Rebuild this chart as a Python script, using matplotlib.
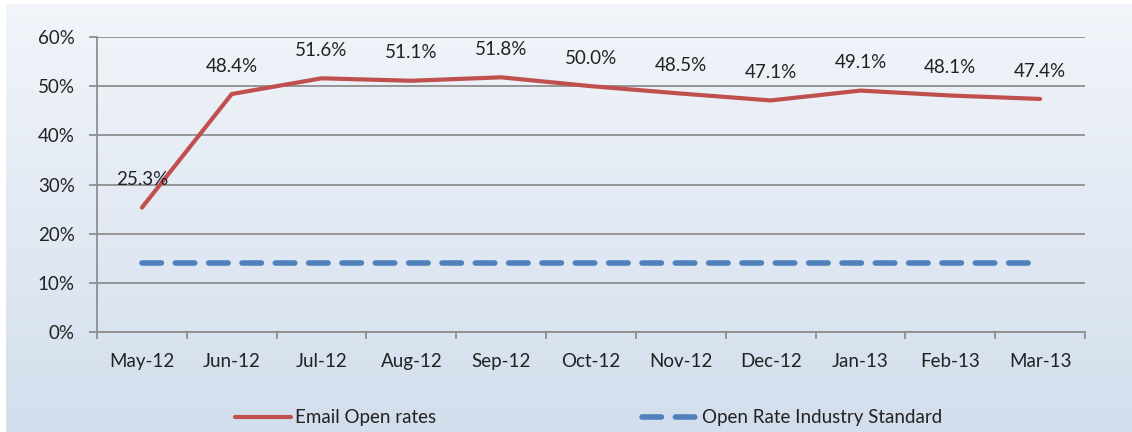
import matplotlib.pyplot as plt
import numpy as np

plt.rcParams['font.family'] = ['Lato', 'DejaVu Sans']

# data
months = ["May-12", "Jun-12", "Jul-12", "Aug-12", "Sep-12", "Oct-12",
          "Nov-12", "Dec-12", "Jan-13", "Feb-13", "Mar-13"]
open_rates = [25.3, 48.4, 51.6, 51.1, 51.8, 50.0, 48.5, 47.1, 49.1, 48.1, 47.4]
industry_std = [14.0] * len(months)

text_col = '#222222'
grid_col = '#8e8e8e'
fs = 13.5

fig = plt.figure(figsize=(11.32, 4.32), dpi=100)

# gradient background
bg = fig.add_axes([6 / 1132, 0, 1 - 6 / 1132, 1 - 4 / 432], zorder=-1)
top = np.array([0.949, 0.961, 0.980])
bot = np.array([0.827, 0.871, 0.929])
t = np.linspace(0, 1, 256)[:, None]
grad = top[None, :] * (1 - t) + bot[None, :] * t
bg.imshow(grad[:, None, :], aspect='auto', extent=[0, 1, 0, 1])
bg.axis('off')

ax = fig.add_axes([97 / 1132, 1 - 332 / 432, (1085 - 97) / 1132, (332 - 37) / 432])
ax.patch.set_alpha(0)

x = np.arange(len(months))
ax.plot(x, open_rates, color='#c0504d', lw=3, solid_capstyle='round',
        label='Email Open rates', zorder=3)
ax.plot(x, industry_std, color='#4f81bd', lw=4, dashes=(3.5, 2.5),
        dash_capstyle='round', label='Open Rate Industry Standard', zorder=3)

for xi, v in zip(x, open_rates):
    ax.annotate(f"{v:.1f}%", (xi, v), xytext=(0, 20), textcoords='offset points',
                ha='center', va='center', fontsize=fs, color=text_col)

ax.set_xlim(-0.5, len(months) - 0.5)
ax.set_ylim(0, 60)
ax.set_yticks(range(0, 61, 10))
ax.set_yticklabels([f"{v}%" for v in range(0, 61, 10)])
ax.set_xticks(x)
ax.set_xticklabels(months)
ax.set_xticks(np.arange(-0.5, len(months)), minor=True)

ax.grid(axis='y', color=grid_col, lw=1.3)
ax.set_axisbelow(True)
for s in ['top', 'right']:
    ax.spines[s].set_visible(False)
for s in ['left', 'bottom']:
    ax.spines[s].set_color(grid_col)
    ax.spines[s].set_linewidth(1.3)

ax.tick_params(axis='y', length=6, width=1.3, color=grid_col, pad=10,
               labelsize=fs, labelcolor=text_col)
ax.tick_params(axis='x', which='major', length=0, pad=15,
               labelsize=fs, labelcolor=text_col)
ax.tick_params(axis='x', which='minor', length=5, width=1.3, color=grid_col)

fig.legend(loc='center', bbox_to_anchor=(0.52, 14 / 432), ncol=2, frameon=False,
           fontsize=fs, labelcolor=text_col, handlelength=3.0,
           columnspacing=11.0, handletextpad=0.2)

fig.savefig('out.png', dpi=100)
